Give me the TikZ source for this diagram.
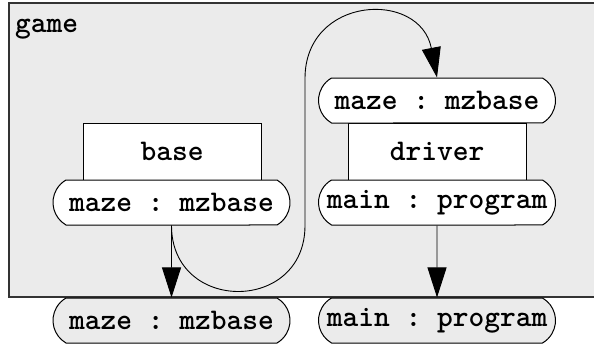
\documentclass[tikz,border=0pt]{standalone}
\usepackage{fontspec}
\setmonofont{Latin Modern Mono Light}
\usetikzlibrary{shapes.misc,arrows.meta}
\definecolor{gamegray}{HTML}{EBEBEB}
\tikzset{
  label font/.style={font=\fontsize{30}{34}\selectfont\ttfamily\bfseries},
  pill/.style={rounded rectangle, rounded rectangle arc length=120, draw,
    line width=1pt, fill=white, minimum width=237pt, minimum height=45pt,
    inner sep=0pt, label font},
  comp/.style={draw, line width=1pt, fill=white, minimum width=178pt,
    minimum height=57pt, inner sep=0pt, label font},
  link/.style={line width=0.9pt, -{Triangle[length=30pt,width=19pt]}}
}
\begin{document}
\begin{tikzpicture}[x=1pt,y=-1pt]
\useasboundingbox (0,0) rectangle (594,345);
\fill[gamegray] (9,3) rectangle (600,297);
\draw[line width=1.5pt, black!80] (600,3) -- (9,3) -- (9,297) -- (600,297);
\node[anchor=base west, inner sep=0pt, label font] (game) at (15,33) {game};

\node[comp] (base) at (172,151.5) {base};
\node[pill] (baseMaze) at (171.5,202.5) {maze : mzbase};
\node[comp] (driver) at (437,151.5) {driver};
\node[pill] (driverMaze) at (437,100.5) {maze : mzbase};
\node[pill] (driverMain) at (437,202.5) {main : program};

\node[pill, fill=gamegray] (outMaze) at (171.5,320.5) {maze : mzbase};
\node[pill, fill=gamegray] (outMain) at (437,320.5) {main : program};

\draw[link] (baseMaze) -- (outMaze);
\draw[link] (driverMain) -- (outMain);
\draw[link] (baseMaze.south) .. controls +(0,88) and +(0,88) .. ++(133.5,0)
  -- ++(0,-147) .. controls +(0,-83) and +(-17,-88) .. (driverMaze.north);
\end{tikzpicture}
\end{document}
